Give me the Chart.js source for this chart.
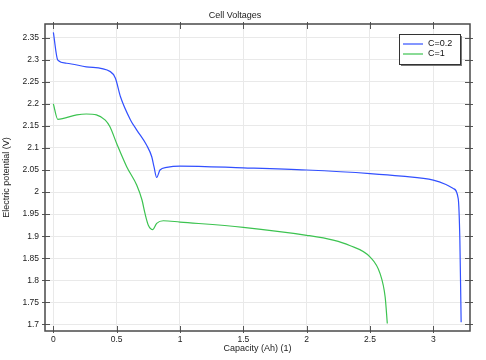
<!DOCTYPE html>
<html>
<head>
<meta charset="utf-8">
<script src="https://cdn.jsdelivr.net/npm/chart.js@4.4.1/dist/chart.umd.min.js"></script>
<style>
  html, body { margin: 0; padding: 0; background: #fff; }
  #wrap { width: 486px; height: 360px; }
</style>
</head>
<body>
<div id="wrap"><canvas id="chart"></canvas></div>
<script>
const capBlue = [0, 0.035, 0.105, 0.26, 0.45, 0.49, 0.53, 0.61, 0.66, 0.737, 0.777, 0.795, 0.816, 0.842, 0.895, 1.0, 1.5, 2.0, 2.5, 2.75, 3.0, 3.1, 3.158, 3.197, 3.21, 3.22];
const voltBlue = [2.362, 2.299, 2.292, 2.284, 2.273, 2.258, 2.216, 2.163, 2.14, 2.106, 2.080, 2.057, 2.033, 2.05, 2.056, 2.059, 2.055, 2.050, 2.042, 2.036, 2.027, 2.017, 2.008, 1.985, 1.891, 1.705];

const capGreen = [0, 0.035, 0.185, 0.26, 0.34, 0.41, 0.447, 0.5, 0.58, 0.658, 0.70, 0.724, 0.75, 0.785, 0.816, 0.868, 1.0, 1.5, 2.0, 2.21, 2.34, 2.5, 2.58, 2.62, 2.637];
const voltGreen = [2.2, 2.165, 2.175, 2.177, 2.175, 2.163, 2.148, 2.110, 2.057, 2.016, 1.982, 1.951, 1.925, 1.915, 1.929, 1.935, 1.932, 1.920, 1.902, 1.891, 1.879, 1.853, 1.815, 1.762, 1.702];

const seriesLabels = ['C=0.2', 'C=1'];
const xTicks = [0, 0.5, 1, 1.5, 2, 2.5, 3];
const yTicks = [1.7, 1.75, 1.8, 1.85, 1.9, 1.95, 2, 2.05, 2.1, 2.15, 2.2, 2.25, 2.3, 2.35];

const FONT = 'Liberation Sans, Arial, sans-serif';

const toPoints = (xs, ys) => xs.map((x, i) => ({ x: x, y: ys[i] }));
const fmt = v => String(+v.toFixed(2));

// frame, inner tick marks and boxed legend, COMSOL style
const framePlugin = {
  id: 'frame',
  afterDraw(chart) {
    const ctx = chart.ctx;
    const a = chart.chartArea;
    const xs = chart.scales.x, ys = chart.scales.y;
    ctx.save();
    ctx.strokeStyle = '#555';
    ctx.lineWidth = 1;
    ctx.beginPath();
    xTicks.forEach(v => {
      const px = Math.round(xs.getPixelForValue(v)) + 0.5;
      ctx.moveTo(px, a.bottom + 2); ctx.lineTo(px, a.bottom - 5);
      ctx.moveTo(px, a.top - 2); ctx.lineTo(px, a.top + 5);
    });
    yTicks.forEach(v => {
      const py = Math.round(ys.getPixelForValue(v)) + 0.5;
      ctx.moveTo(a.left - 3, py); ctx.lineTo(a.left + 5, py);
      ctx.moveTo(a.right + 3, py); ctx.lineTo(a.right - 5, py);
    });
    ctx.stroke();
    ctx.lineWidth = 1.5;
    ctx.strokeStyle = '#4a4a4a';
    ctx.strokeRect(a.left, a.top, a.right - a.left, a.bottom - a.top);

    // legend
    const bw = 61, bh = 30;
    const bx = a.right - 10 - bw, by = a.top + 10;
    ctx.fillStyle = '#777';
    ctx.fillRect(bx + 2, by + 2, bw, bh);
    ctx.fillStyle = '#fff';
    ctx.fillRect(bx, by, bw, bh);
    ctx.lineWidth = 1;
    ctx.strokeStyle = '#333';
    ctx.strokeRect(bx + 0.5, by + 0.5, bw, bh);
    ctx.font = '9px ' + FONT;
    ctx.textBaseline = 'middle';
    chart.data.datasets.forEach((ds, i) => {
      const ly = by + 10 + i * 10;
      ctx.strokeStyle = ds.borderColor;
      ctx.lineWidth = 1.2;
      ctx.beginPath();
      ctx.moveTo(bx + 4, ly); ctx.lineTo(bx + 24, ly);
      ctx.stroke();
      ctx.fillStyle = '#111';
      ctx.fillText(ds.label, bx + 29, ly);
    });
    ctx.restore();
  }
};

new Chart(document.getElementById('chart'), {
  type: 'line',
  data: {
    datasets: [
      {
        label: seriesLabels[0],
        data: toPoints(capBlue, voltBlue),
        borderColor: 'rgb(50, 80, 255)',
        borderWidth: 1.2,
        pointRadius: 0,
        fill: false,
        cubicInterpolationMode: 'monotone'
      },
      {
        label: seriesLabels[1],
        data: toPoints(capGreen, voltGreen),
        borderColor: 'rgb(60, 195, 80)',
        borderWidth: 1.2,
        pointRadius: 0,
        fill: false,
        cubicInterpolationMode: 'monotone'
      }
    ]
  },
  options: {
    responsive: true,
    maintainAspectRatio: false,
    animation: false,
    layout: { padding: { left: 0, right: 16, top: 0, bottom: 0 } },
    plugins: {
      legend: { display: false },
      tooltip: { enabled: false },
      title: {
        display: true,
        text: 'Cell Voltages',
        color: '#222',
        font: { family: FONT, size: 9, weight: 'normal' },
        padding: { top: 10, bottom: 3.2 }
      }
    },
    scales: {
      x: {
        type: 'linear',
        min: -0.066,
        max: 3.29,
        afterBuildTicks: s => { s.ticks = xTicks.map(v => ({ value: v })); },
        afterFit: s => { s.height = 29; },
        grid: { color: '#e9e9e9', drawTicks: false },
        border: { display: false },
        ticks: {
          color: '#222',
          padding: 4,
          maxRotation: 0,
          font: { family: FONT, size: 8.5 },
          callback: v => fmt(v)
        },
        title: {
          display: true,
          text: 'Capacity (Ah) (1)',
          color: '#222',
          font: { family: FONT, size: 9 },
          padding: { top: 0, bottom: 6 }
        }
      },
      y: {
        type: 'linear',
        min: 1.685,
        max: 2.381,
        afterBuildTicks: s => { s.ticks = yTicks.map(v => ({ value: v })); },
        afterFit: s => { s.width = 45; },
        grid: { color: '#e9e9e9', drawTicks: false },
        border: { display: false },
        ticks: {
          color: '#222',
          padding: 6,
          font: { family: FONT, size: 8.5 },
          callback: v => fmt(v)
        },
        title: {
          display: true,
          text: 'Electric potential (V)',
          color: '#222',
          font: { family: FONT, size: 9 },
          padding: { top: 1, bottom: 0 }
        }
      }
    }
  },
  plugins: [framePlugin]
});
</script>
</body>
</html>
